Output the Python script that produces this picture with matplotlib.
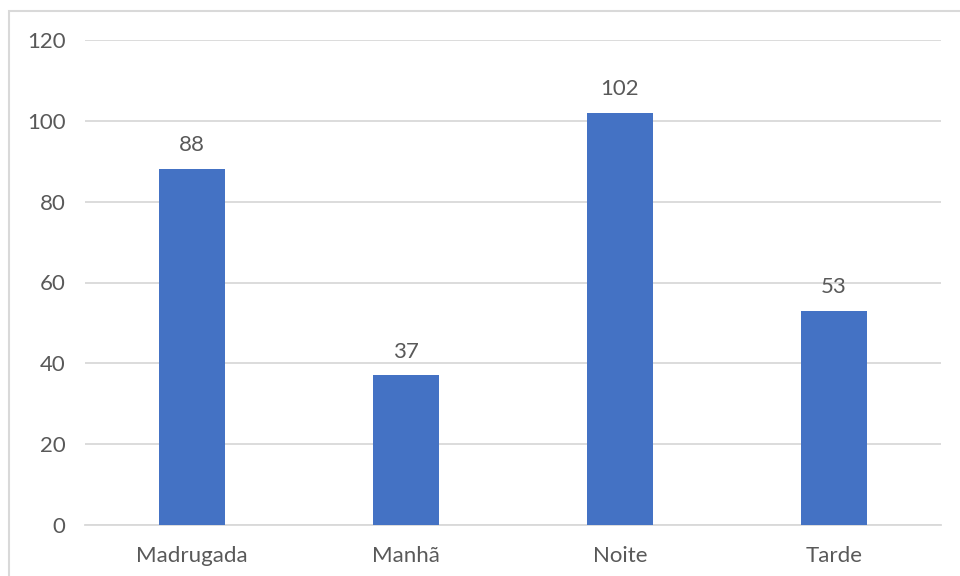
import matplotlib
matplotlib.use("Agg")
import matplotlib.pyplot as plt
from matplotlib.patches import Rectangle

categories = ["Madrugada", "Manhã", "Noite", "Tarde"]
values = [88, 37, 102, 53]
yticks = [0, 20, 40, 60, 80, 100, 120]

plt.rcParams['font.family'] = ['Lato', 'DejaVu Sans']
text_color = "#595959"
bar_color = "#4472C4"
grid_color = "#D9D9D9"

W, H = 960, 576
fig = plt.figure(figsize=(W / 100, H / 100), dpi=100)
fig.patch.set_facecolor("white")

# chart-area border
fig.patches.append(Rectangle((9 / W, -0.05), 1.1, 1 - 11 / H + 0.05,
                             transform=fig.transFigure, fill=False,
                             edgecolor="#D9D9D9", linewidth=1.5))

ax = fig.add_axes([85 / W, 1 - 525 / H, (941 - 85) / W, (525 - 40) / H])
x = range(len(categories))
bars = ax.bar(x, values, width=0.31, color=bar_color, zorder=3)

ax.set_xlim(-0.5, len(categories) - 0.5)
ax.set_ylim(0, 120)
ax.set_yticks(yticks)
ax.set_xticks(list(x))
ax.set_xticklabels(categories)

ax.yaxis.grid(True, color=grid_color, linewidth=1.3, zorder=0)
ax.set_axisbelow(True)
for side in ["left", "right", "top"]:
    ax.spines[side].set_visible(False)
ax.spines["bottom"].set_color(grid_color)
ax.spines["bottom"].set_linewidth(1.3)

ax.tick_params(axis="both", length=0, labelsize=16, colors=text_color)
ax.tick_params(axis="y", pad=14)
ax.tick_params(axis="x", pad=15)

for rect, v in zip(bars, values):
    ax.annotate(str(v), (rect.get_x() + rect.get_width() / 2, v),
                xytext=(0, 10), textcoords="offset points",
                ha="center", va="bottom", fontsize=16, color=text_color)

fig.savefig("out.png", dpi=100)
